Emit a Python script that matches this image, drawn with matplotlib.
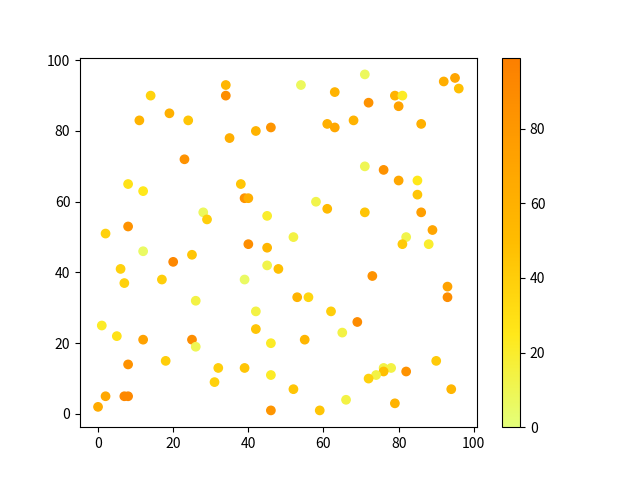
import matplotlib
import matplotlib.pyplot as plt

matplotlib.use("Agg")
plt.rcParams["font.family"] = ["Noto Sans CJK SC", "DejaVu Sans"]

# point positions and colour values
x = [14, 34, 34, 11, 19, 24, 35, 42, 46, 23,
     8, 12, 38, 39, 40, 28, 29, 45, 2, 8,
     40, 45, 54, 71, 63, 72, 79, 81, 80, 92,
     95, 96, 61, 63, 68, 86, 71, 76, 80, 85,
     85, 58, 61, 71, 86, 89, 52, 82, 81, 88,
     12, 20, 25, 45, 48, 6, 7, 17, 39, 26,
     42, 42, 1, 5, 12, 25, 26, 46, 8, 18,
     32, 39, 31, 46, 2, 7, 8, 0, 46, 73,
     93, 93, 53, 56, 62, 69, 65, 55, 90, 76,
     78, 76, 74, 72, 82, 52, 94, 66, 59, 79]
y = [90, 93, 90, 83, 85, 83, 78, 80, 81, 72,
     65, 63, 65, 61, 61, 57, 55, 56, 51, 53,
     48, 47, 93, 96, 91, 88, 90, 90, 87, 94,
     95, 92, 82, 81, 83, 82, 70, 69, 66, 66,
     62, 60, 58, 57, 57, 52, 50, 50, 48, 48,
     46, 43, 45, 42, 41, 41, 37, 38, 38, 32,
     29, 24, 25, 22, 21, 21, 19, 20, 14, 15,
     13, 13, 9, 11, 5, 5, 5, 2, 1, 39,
     36, 33, 33, 33, 29, 26, 23, 21, 15, 13,
     13, 12, 11, 10, 12, 7, 7, 4, 1, 3]
c = [37, 55, 88, 58, 60, 45, 62, 58, 82, 85,
     28, 25, 45, 85, 62, 8, 40, 20, 38, 85,
     88, 55, 8, 8, 58, 85, 58, 22, 72, 62,
     70, 48, 60, 68, 58, 60, 10, 85, 68, 25,
     45, 12, 52, 45, 75, 70, 14, 12, 42, 20,
     6, 93, 45, 12, 48, 38, 38, 40, 6, 14,
     14, 45, 22, 28, 72, 88, 10, 22, 85, 40,
     40, 45, 38, 22, 68, 92, 92, 65, 82, 85,
     72, 88, 58, 35, 40, 90, 14, 55, 42, 14,
     14, 48, 14, 38, 85, 45, 55, 14, 45, 58]

fig, ax = plt.subplots(figsize=(6.4, 4.8))
sc = ax.scatter(x, y, c=c, cmap="Wistia", vmin=0, vmax=99)
fig.colorbar(sc, ax=ax)

plt.savefig("out.png", dpi=100)
plt.close()
